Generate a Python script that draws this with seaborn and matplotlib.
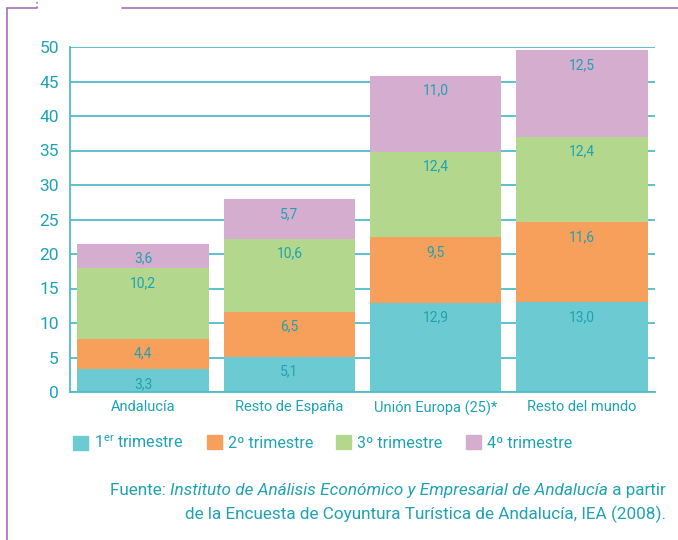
import matplotlib
matplotlib.use("Agg")
import matplotlib.pyplot as plt
import matplotlib.patches as mpatches
from matplotlib.lines import Line2D
import seaborn as sns
import numpy as np
import pandas as pd

sns.set_style("white")
plt.rcParams["font.family"] = ["Roboto", "DejaVu Sans"]
plt.rcParams["mathtext.fontset"] = "custom"
plt.rcParams["mathtext.rm"] = "Roboto"

# data
categories = ["Andalucía", "Resto de España", "Unión Europa (25)*", "Resto del mundo"]
quarters = ["1$^{\\mathrm{er}}$ trimestre", "2º trimestre", "3º trimestre", "4º trimestre"]
q1 = [3.3, 5.1, 12.9, 13.0]
q2 = [4.4, 6.5, 9.5, 11.6]
q3 = [10.2, 10.6, 12.4, 12.4]
q4 = [3.6, 5.7, 11.0, 12.5]
series = [q1, q2, q3, q4]

colors = ["#6ccbd2", "#f7a05c", "#b3d78c", "#d4adcf"]
teal = "#1ea2b4"
grid_col = "#4fbccb"
frame_col = "#a86fb8"

fig = plt.figure(figsize=(6.78, 5.4), dpi=100)
ax = fig.add_axes([70 / 678, 1 - 392 / 540, 585 / 678, 345 / 540])

# stacked bars, drawn as cumulative totals from top quarter to bottom
df = pd.DataFrame({"cat": categories})
cum = np.zeros(len(categories))
tops = []
for s in series:
    cum = cum + np.array(s)
    tops.append(cum.copy())

for i in range(3, -1, -1):
    df["val"] = tops[i]
    sns.barplot(data=df, x="cat", y="val", color=colors[i], width=0.9,
                saturation=1, ax=ax, edgecolor="none", linewidth=0)

# value labels near the top of each segment
for i, s in enumerate(series):
    for j, v in enumerate(s):
        ax.annotate(f"{v:.1f}".replace(".", ","), xy=(j, tops[i][j]),
                    xytext=(0, -10.5), textcoords="offset points",
                    ha="center", va="center", color=teal, fontsize=10)

ax.set_xlim(-0.5, 3.5)
ax.set_ylim(0, 50)
ax.set_yticks(range(0, 51, 5))
ax.set_xlabel("")
ax.set_ylabel("")
ax.yaxis.grid(True, color=grid_col, linewidth=1.3)
ax.set_axisbelow(True)
ax.tick_params(axis="y", colors=teal, labelsize=12.5, length=0, pad=8)
ax.tick_params(axis="x", colors=teal, labelsize=10.5, length=0, pad=6)
for side in ["top", "right"]:
    ax.spines[side].set_visible(False)
for side in ["left", "bottom"]:
    ax.spines[side].set_color(grid_col)
    ax.spines[side].set_linewidth(1.3)

# legend, one entry per position
legend_x = [73, 207, 336, 466]
for c, q, x in zip(colors, quarters, legend_x):
    fig.legend(handles=[mpatches.Patch(color=c, label=q)], loc="center left",
               bbox_to_anchor=(x / 678, 1 - 443 / 540), frameon=False,
               fontsize=11.5, labelcolor=teal, handlelength=0.94, handleheight=0.94,
               handletextpad=0.4, borderpad=0, borderaxespad=0)

# source note, right aligned
fs = 12.3
t1 = fig.text(666 / 678, 1 - 498 / 540, " a partir", ha="right", va="bottom",
              color=teal, fontsize=fs)
t2 = ax.annotate("Instituto de Análisis Económico y Empresarial de Andalucía",
                 xy=(0, 0), xycoords=t1, ha="right", va="bottom",
                 color=teal, fontsize=fs, style="italic", annotation_clip=False)
ax.annotate("Fuente: ", xy=(0, 0), xycoords=t2, ha="right", va="bottom",
            color=teal, fontsize=fs, annotation_clip=False)
fig.text(666 / 678, 1 - 523 / 540,
         "de la Encuesta de Coyuntura Turística de Andalucía, IEA (2008).",
         ha="right", va="bottom", color=teal, fontsize=fs)

# decorative page frame
fig.add_artist(Line2D([7 / 678, 7 / 678], [0, 1 - 8 / 540], color=frame_col, lw=1.2))
fig.add_artist(Line2D([7 / 678, 37 / 678], [1 - 8 / 540, 1 - 8 / 540], color=frame_col, lw=1.2))
fig.add_artist(Line2D([37 / 678, 37 / 678], [1 - 8 / 540, 1], color=frame_col, lw=1.2, ls=":"))
fig.add_artist(Line2D([122 / 678, 1], [1 - 8 / 540, 1 - 8 / 540], color=frame_col, lw=1.2))

fig.savefig("out.png", dpi=100)
